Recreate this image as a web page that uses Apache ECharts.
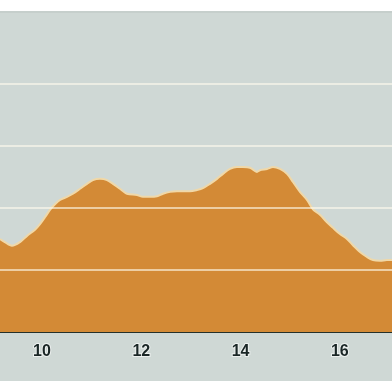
<!DOCTYPE html>
<html>
<head>
<meta charset="utf-8">
<script src="https://cdn.jsdelivr.net/npm/echarts@6/dist/echarts.min.js"></script>
<style>
html,body{margin:0;padding:0;background:#ffffff;}
#wrap{position:absolute;left:0;top:11px;width:392px;height:370px;background:#cfd8d5;border-top:2px solid #c6cfcc;box-sizing:border-box;}
#chart{position:absolute;left:0;top:0;width:392px;height:368px;}
</style>
</head>
<body>
<div id="wrap"><div id="chart"></div></div>
<script>
// distance (x) and elevation (y)
const xs = [9.154, 9.356, 9.396, 9.557, 9.698, 9.859, 9.960, 10.060, 10.161, 10.262, 10.363, 10.504, 10.624, 10.765, 10.906, 11.027, 11.168, 11.309, 11.430, 11.571, 11.712, 11.913, 12.034, 12.175, 12.316, 12.437, 12.578, 12.719, 12.840, 12.981, 13.122, 13.243, 13.384, 13.525, 13.646, 13.786, 13.927, 14.048, 14.189, 14.330, 14.390, 14.532, 14.653, 14.794, 14.935, 15.055, 15.196, 15.337, 15.458, 15.599, 15.740, 15.861, 16.002, 16.143, 16.264, 16.405, 16.546, 16.667, 16.808, 16.949, 17.050];
const ys = [150, 140, 139, 145, 155, 165, 174, 185, 197, 206, 213, 218, 223, 231, 239, 245, 247, 245, 239, 231, 223, 221, 218, 218, 219, 223, 226, 227, 227, 227, 229, 232, 239, 247, 255, 263, 266, 266, 265, 258, 261, 263, 266, 263, 255, 242, 226, 213, 198, 189, 177, 168, 158, 150, 140, 129, 121, 116, 115, 116, 116];
const xTicks = [10, 12, 14, 16];
const yGrid = [100, 200, 300, 400];

const chart = echarts.init(document.getElementById('chart'), null, {renderer: 'canvas'});
const data = xs.map((x, i) => [x, ys[i]]);
chart.setOption({
  backgroundColor: 'transparent',
  animation: false,
  grid: {left: 0, right: 0, top: 0, bottom: 49, containLabel: false},
  xAxis: {
    type: 'value', min: 9.154, max: 17.05,
    axisLine: {show: true, onZero: false, lineStyle: {color: '#25302a', width: 2}},
    axisTick: {show: true, inside: true, length: 8, customValues: xTicks, lineStyle: {color: '#f6e2b6', width: 2}},
    axisLabel: {show: true, customValues: xTicks, margin: 12, fontSize: 16, fontWeight: 'bold', fontFamily: 'Liberation Sans, Arial, sans-serif', color: '#1a2626', textBorderColor: 'rgba(255,255,255,0.6)', textBorderWidth: 2},
    splitLine: {show: false}
  },
  yAxis: {
    type: 'value', min: 0, max: 514.5,
    axisLine: {show: false}, axisTick: {show: false}, axisLabel: {show: false}, splitLine: {show: false}
  },
  series: [{
    type: 'line', data: data, smooth: 0.3, symbol: 'none', z: 2,
    lineStyle: {color: '#f0d8a8', width: 2},
    areaStyle: {color: '#d38a36', opacity: 1},
    markLine: {
      silent: true, symbol: 'none', label: {show: false},
      lineStyle: {color: 'rgba(255,252,238,0.6)', width: 2, type: 'solid'},
      data: yGrid.map(v => ({yAxis: v}))
    }
  }]
});
</script>
</body>
</html>
